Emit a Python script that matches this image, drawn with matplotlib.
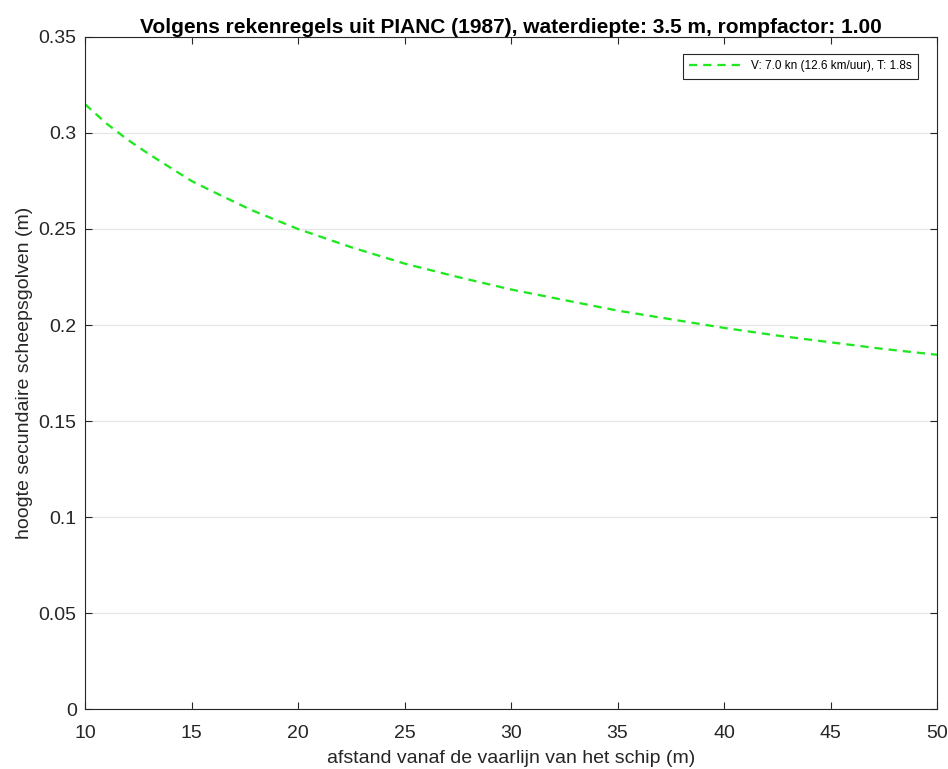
import matplotlib
matplotlib.use("Agg")
import matplotlib.pyplot as plt

# distance from sailing line (m) and secondary wave height (m)
afstand = [10, 11, 12, 13, 14, 15, 16, 17.5, 18, 20, 22.5, 25, 27.5, 30, 32.5, 35,
           37.5, 40, 42.5, 45, 47.5, 50]
hoogte = [0.315, 0.305, 0.2965, 0.289, 0.282, 0.275, 0.2695, 0.2615, 0.259, 0.250,
          0.2405, 0.232, 0.225, 0.2185, 0.213, 0.2075, 0.203, 0.1985, 0.1945, 0.191,
          0.1875, 0.1845]

x_ticks = [10, 15, 20, 25, 30, 35, 40, 45, 50]
y_ticks = [0, 0.05, 0.1, 0.15, 0.2, 0.25, 0.3, 0.35]
y_labels = ["0", "0.05", "0.1", "0.15", "0.2", "0.25", "0.3", "0.35"]

plt.rcParams["font.family"] = ["Liberation Sans", "DejaVu Sans"]

fig = plt.figure(figsize=(9.48, 7.69), dpi=100)
ax = fig.add_axes([0.0897, 0.078, 0.8987, 0.8739])

ax.plot(afstand, hoogte, color="#20e820", linestyle=(0, (3.6, 2.6)), linewidth=1.65,
        label="V: 7.0 kn (12.6 km/uur), T: 1.8s")

ax.set_xlim(10, 50)
ax.set_ylim(0, 0.35)
ax.set_xticks(x_ticks)
ax.set_yticks(y_ticks)
ax.set_yticklabels(y_labels)
ax.tick_params(direction="in", top=True, right=True, labelsize=14, colors="#262626",
               length=5, width=0.8)
ax.tick_params(axis="x", pad=11.5)
ax.tick_params(axis="y", pad=6)
ax.grid(axis="y", color="#e6e6e6", linewidth=0.9)
ax.set_axisbelow(True)
for s in ax.spines.values():
    s.set_color("#262626")
    s.set_linewidth(0.8)

ax.set_xlabel("afstand vanaf de vaarlijn van het schip (m)", fontsize=14, color="#262626", labelpad=6)
ax.set_ylabel("hoogte secundaire scheepsgolven (m)", fontsize=14, color="#262626", labelpad=4)
ax.set_title("Volgens rekenregels uit PIANC (1987), waterdiepte: 3.5 m, rompfactor: 1.00",
             fontsize=15, fontweight="bold", pad=3)

leg = ax.legend(loc="upper right", fontsize=8.5, fancybox=False, framealpha=1,
                edgecolor="#262626", borderpad=0.55, handlelength=4.3, handletextpad=0.9,
                borderaxespad=0, bbox_to_anchor=(0.9777, 0.9747))
leg.get_frame().set_linewidth(0.8)

fig.savefig("out.png", dpi=100)
